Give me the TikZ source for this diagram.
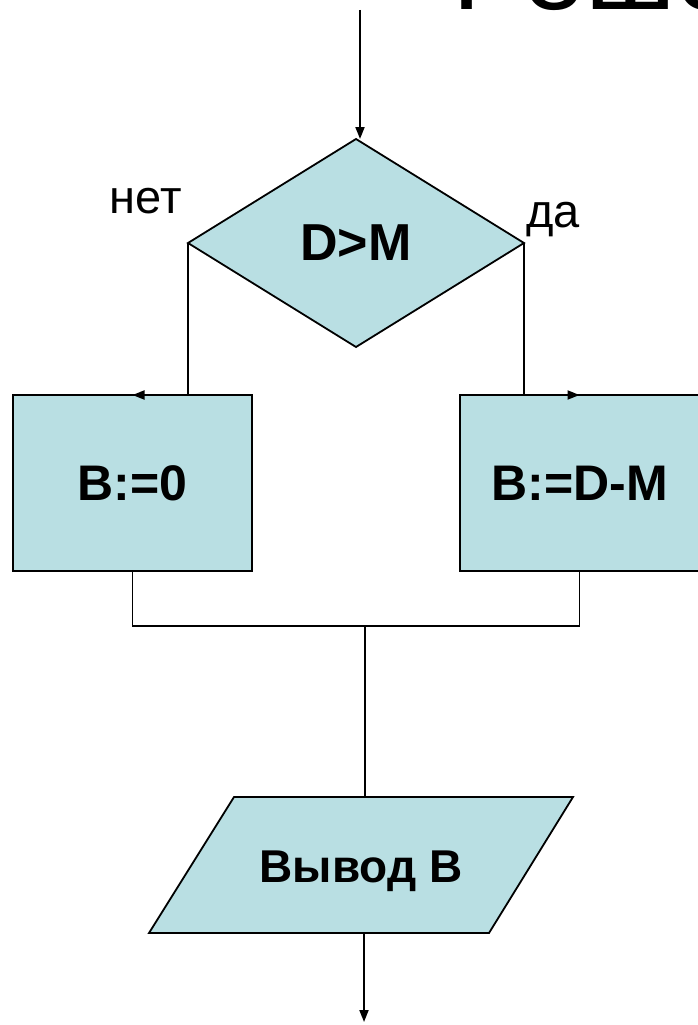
\documentclass[tikz,border=0pt]{standalone}
\usepackage{fontspec}
\setmainfont{Liberation Sans}
\usetikzlibrary{shapes.geometric,arrows.meta}
\definecolor{boxfill}{RGB}{185,223,227}
\begin{document}
\begin{tikzpicture}[x=1pt,y=-1pt,
  every node/.style={inner sep=0pt, outer sep=0pt},
  shapebox/.style={draw, fill=boxfill, line width=1.8pt},
  flow/.style={line width=1.8pt},
  arr/.style={flow,-{Triangle[length=12pt,width=9pt]}},
  big/.style={font=\fontsize{52}{56}\selectfont\bfseries, text depth=0pt},
  boxtext/.style={font=\fontsize{50}{54}\selectfont\bfseries, text depth=0pt},
  lbl/.style={font=\fontsize{47}{50}\selectfont}]
\useasboundingbox (0,0) rectangle (698,1025);
\clip (0,0) rectangle (698,1025);
\node[anchor=base west, font=\fontsize{113}{120}\selectfont] (title) at (452,10) {Решение};
\coordinate (start) at (360,10);
\node[diamond, shapebox, minimum width=336pt, minimum height=208pt, big] (cond) at (356,243) {D>M};
\node[rectangle, shapebox, minimum width=239pt, minimum height=176pt, boxtext] (b0) at (132.5,483) {B:=0};
\node[rectangle, shapebox, minimum width=239pt, minimum height=176pt, boxtext] (b1) at (579.5,483) {B:=D-M};
% parallelogram (output block)
\coordinate (p1) at (234,797);
\coordinate (p2) at (573,797);
\coordinate (p3) at (489,933);
\coordinate (p4) at (149,933);
\draw[shapebox] (p1) -- (p2) -- (p3) -- (p4) -- cycle;
\node[font=\fontsize{46}{48}\selectfont\bfseries, text depth=0pt] (out) at (361,867) {Вывод В};
\node[lbl, anchor=base west] (no) at (109.5,213) {нет};
\node[lbl, anchor=base west] (yes) at (526,227) {да};
\coordinate (join) at (365,626);
\coordinate (end) at (364,1022);
\draw[arr] (start) -- (start |- cond.north);
\draw[arr] (cond.west) |- (b0.north);
\draw[arr] (cond.east) |- (b1.north);
\draw[flow] (b0.south) |- (join) -| (b1.south);
\draw[flow] (join) -- (join |- p1);
\draw[arr] (end |- p4) -- (end);
\end{tikzpicture}
\end{document}
